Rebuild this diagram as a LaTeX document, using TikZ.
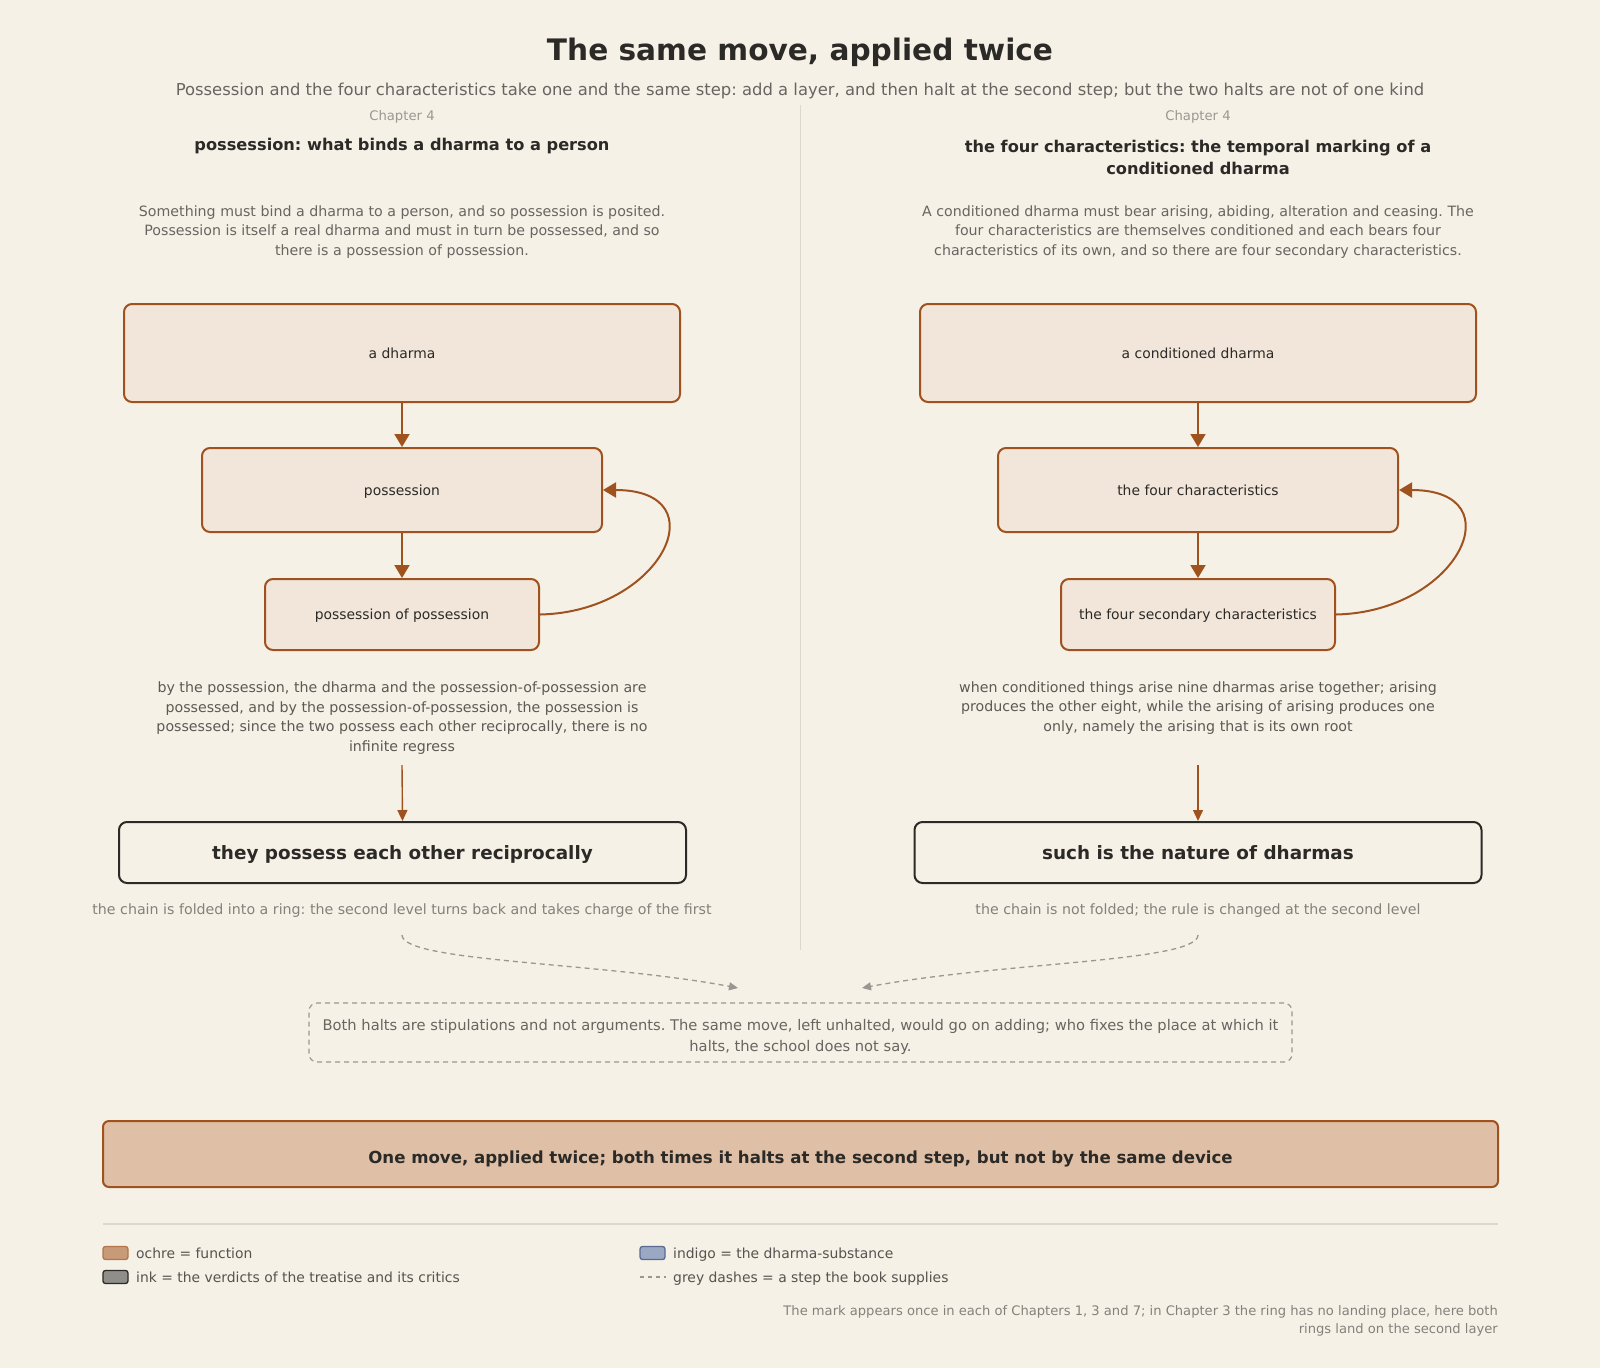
\documentclass[tikz,border=0pt]{standalone}
\usepackage{fontspec}
\setmainfont{DejaVu Sans}
\usetikzlibrary{arrows.meta}
\frenchspacing
\definecolor{bg}{HTML}{F6F1E7}
\definecolor{ochre}{HTML}{A0521E}
\definecolor{boxfill}{HTML}{F2E6DA}
\definecolor{ink}{HTML}{2B2A27}
\definecolor{greytext}{HTML}{686561}
\definecolor{lightgrey}{HTML}{9A9792}
\definecolor{concl}{HTML}{DFC0A6}
\definecolor{divider}{HTML}{DDD8CE}
\definecolor{indigofill}{HTML}{9AA8C4}
\definecolor{indigoline}{HTML}{5A6A90}
\definecolor{inkfill}{HTML}{8F8E88}
\tikzset{
  fs/.style={font=\fontsize{#1}{19.5}\selectfont},
  stepbox/.style={draw=ochre, line width=2pt, fill=boxfill, rounded corners=8pt, inner sep=0pt, text=ink, fs=13.9, text height=10pt, text depth=0pt},
  verdict/.style={draw=ink, line width=2pt, fill=bg, rounded corners=8pt, inner sep=0pt, text=ink, font=\fontsize{18.4}{22}\selectfont\bfseries, text height=14pt, text depth=0pt},
  flow/.style={draw=ochre, line width=2pt, -{Triangle[length=13pt,width=15pt]}},
  thin flow/.style={draw=ochre, line width=1.4pt, -{Triangle[length=11pt,width=10pt]}},
  greydash/.style={draw=lightgrey, line width=1.3pt, dash pattern=on 5pt off 4pt, -{Triangle[length=9pt,width=8pt]}},
  desc/.style={align=center, text=greytext, fs=14.2},
  chap/.style={text=lightgrey, fs=13.2},
  head/.style={align=center, text=ink, font=\fontsize{16.2}{22}\selectfont\bfseries},
  legtext/.style={anchor=base west, text=greytext!70!ink, fs=13.9, inner sep=0pt},
  swatch/.style={line width=1.3pt, rounded corners=2.5pt, minimum width=25pt, minimum height=13pt, inner sep=0pt},
}
\begin{document}
\begin{tikzpicture}[x=1pt,y=-1pt]
\fill[bg] (0,0) rectangle (1600,1368);
\useasboundingbox (0,0) rectangle (1600,1368);

% title
\node (title) at (800,52) {\fontsize{29.6}{34}\selectfont\bfseries\color{ink}The same move, applied twice};
\node (subtitle) at (800,90.5) [text=greytext, fs=16.4] {Possession and the four characteristics take one and the same step: add a layer, and then halt at the second step; but the two halts are not of one kind};

% divider
\draw[divider, line width=1pt] (800,105) -- (800,950);

% left column
\node (chapL) at (402,117) [chap] {Chapter 4};
\node (headL) at (402,146) [head] {possession: what binds a dharma to a person};
\node (descL) at (402,232) [desc] {Something must bind a dharma to a person, and so possession is posited.\\Possession is itself a real dharma and must in turn be possessed, and so\\there is a possession of possession.};
\node (dharma) at (402,353) [stepbox, minimum width=556pt, minimum height=98pt] {a dharma};
\node (poss) at (402,490) [stepbox, minimum width=400pt, minimum height=84pt] {possession};
\node (pp) at (402,614.5) [stepbox, minimum width=274pt, minimum height=71pt] {possession of possession};
\draw[flow] (dharma) -- (poss);
\draw[flow] (poss) -- (pp);
\draw[flow] (pp.east) .. controls (662,612) and (720,490) .. (poss.east);
\node (botL) at (402,718) [desc, text=greytext!80!ink] {by the possession, the dharma and the possession-of-possession are\\possessed, and by the possession-of-possession, the possession is\\possessed; since the two possess each other reciprocally, there is no\\infinite regress};
\node (verL) at (402.5,852.5) [verdict, minimum width=567pt, minimum height=61pt] {they possess each other reciprocally};
\draw[thin flow] (402,765) -- (verL.north);
\node (capL) at (402,911) [desc, text=greytext!80!bg] {the chain is folded into a ring: the second level turns back and takes charge of the first};

% right column
\node (chapR) at (1198,117) [chap] {Chapter 4};
\node (headR) at (1198,157) [head] {the four characteristics: the temporal marking of a\\conditioned dharma};
\node (descR) at (1198,232) [desc] {A conditioned dharma must bear arising, abiding, alteration and ceasing. The\\four characteristics are themselves conditioned and each bears four\\characteristics of its own, and so there are four secondary characteristics.};
\node (cdharma) at (1198,353) [stepbox, minimum width=556pt, minimum height=98pt] {a conditioned dharma};
\node (four) at (1198,490) [stepbox, minimum width=400pt, minimum height=84pt] {the four characteristics};
\node (sec) at (1198,614.5) [stepbox, minimum width=274pt, minimum height=71pt] {the four secondary characteristics};
\draw[flow] (cdharma) -- (four);
\draw[flow] (four) -- (sec);
\draw[flow] (sec.east) .. controls (1458,612) and (1516,490) .. (four.east);
\node (botR) at (1198,708) [desc, text=greytext!80!ink] {when conditioned things arise nine dharmas arise together; arising\\produces the other eight, while the arising of arising produces one\\only, namely the arising that is its own root};
\node (verR) at (1198,852.5) [verdict, minimum width=567pt, minimum height=61pt] {such is the nature of dharmas};
\draw[thin flow] (1198,765) -- (verR.north);
\node (capR) at (1198,911) [desc, text=greytext!80!bg] {the chain is not folded; the rule is changed at the second level};

% note
\node (note) at (800.5,1032.5) [draw=lightgrey, line width=1.2pt, dash pattern=on 5pt off 4pt, rounded corners=8pt, fill=bg, minimum width=983pt, minimum height=59pt] {};
\node (notetext) at (800.5,1037) [desc, text=greytext, font=\fontsize{14.7}{20.5}\selectfont] {Both halts are stipulations and not arguments. The same move, left unhalted, would go on adding; who fixes the place at which it\\halts, the school does not say.};
\coordinate (tipL) at (738,988);
\coordinate (tipR) at (862,988);
\draw[greydash] (402,935) .. controls (402,962) and (600,962) .. (tipL);
\draw[greydash] (1198,935) .. controls (1198,962) and (1000,962) .. (tipR);

% conclusion
\node (concl) at (800.5,1154) [draw=ochre, line width=2pt, fill=concl, rounded corners=6pt, minimum width=1395pt, minimum height=66pt] {};
\node (concltext) at (800.5,1163) [anchor=base, text=ink, font=\fontsize{16.6}{20}\selectfont\bfseries, inner sep=0pt] {One move, applied twice; both times it halts at the second step, but not by the same device};

% legend
\draw[divider, line width=1.2pt] (103,1224) -- (1498,1224);
\node (sw1) at (115.5,1253) [swatch, draw=ochre!80, fill=ochre!55!bg] {};
\node (lg1) at (136,1258.3) [legtext] {ochre = function};
\node (sw2) at (115.5,1277) [swatch, draw=ink, fill=inkfill] {};
\node (lg2) at (136,1282.3) [legtext] {ink = the verdicts of the treatise and its critics};
\node (sw3) at (652.5,1253) [swatch, draw=indigoline, fill=indigofill] {};
\node (lg3) at (673,1258.3) [legtext] {indigo = the dharma-substance};
\coordinate (dashA) at (640,1277);
\coordinate (dashB) at (666,1277);
\draw[lightgrey, line width=1.3pt, dash pattern=on 4pt off 4pt] (dashA) -- (dashB);
\node (lg4) at (673,1282.3) [legtext] {grey dashes = a step the book supplies};
\node (foot) at (1498,1321) [anchor=east, align=right, text=greytext!80!bg, font=\fontsize{13.1}{18.5}\selectfont, inner sep=0pt] {The mark appears once in each of Chapters 1, 3 and 7; in Chapter 3 the ring has no landing place, here both\\rings land on the second layer};
\end{tikzpicture}
\end{document}
